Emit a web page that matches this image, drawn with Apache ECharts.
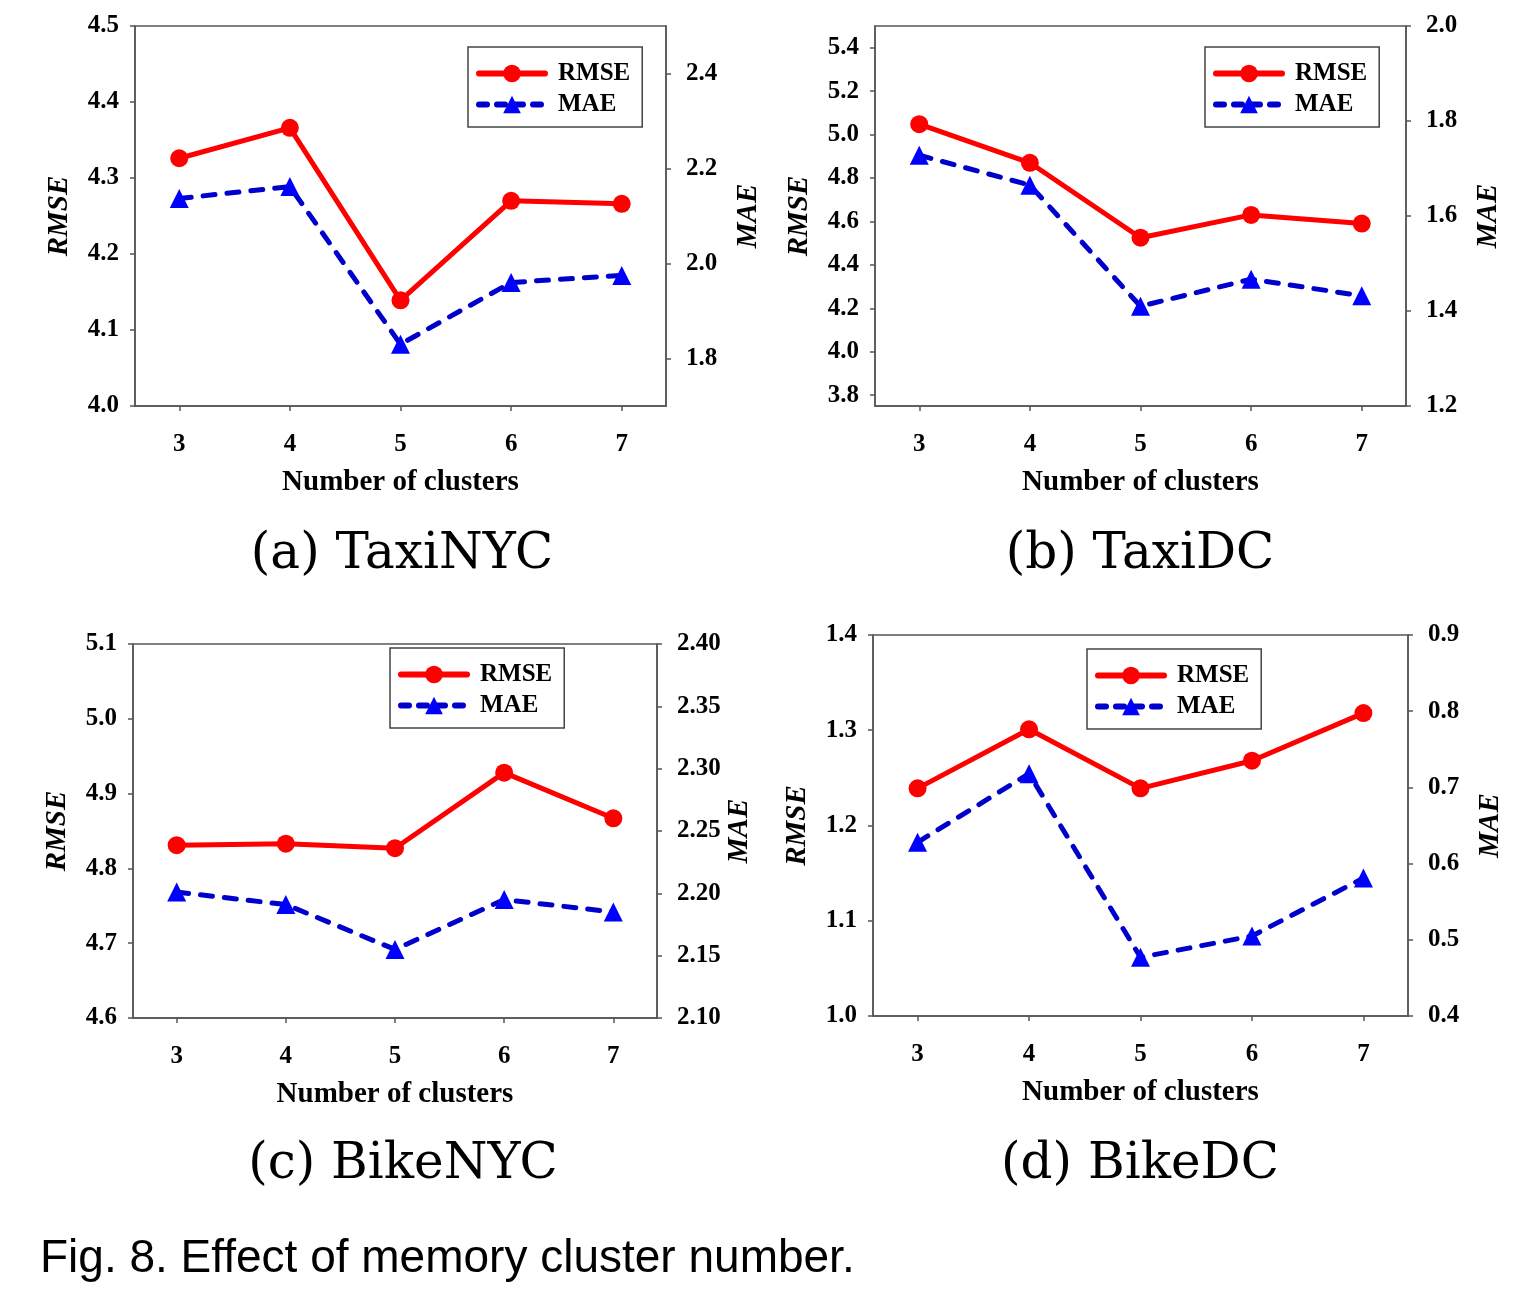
<!DOCTYPE html>
<html><head><meta charset="utf-8">
<script src="https://cdn.jsdelivr.net/npm/echarts@6/dist/echarts.min.js"></script>
<style>html,body{margin:0;padding:0;background:#fff}#c{width:1516px;height:1300px}</style>
</head><body><div id="c"></div>
<script>
const clusters = [3, 4, 5, 6, 7];
const rmseTaxiNYC = [4.326, 4.366, 4.139, 4.270, 4.266];
const maeTaxiNYC  = [2.137, 2.162, 1.830, 1.960, 1.975];
const rmseTaxiDC  = [5.048, 4.870, 4.525, 4.630, 4.590];
const maeTaxiDC   = [1.728, 1.665, 1.410, 1.467, 1.432];
const rmseBikeNYC = [4.831, 4.833, 4.827, 4.928, 4.867];
const maeBikeNYC  = [2.201, 2.191, 2.155, 2.195, 2.185];
const rmseBikeDC  = [1.239, 1.301, 1.239, 1.268, 1.318];
const maeBikeDC   = [0.628, 0.718, 0.477, 0.505, 0.581];

const ticksLeftA = [4.0, 4.1, 4.2, 4.3, 4.4, 4.5];
const ticksRightA = [1.8, 2.0, 2.2, 2.4];
const ticksLeftB = [3.8, 4.0, 4.2, 4.4, 4.6, 4.8, 5.0, 5.2, 5.4];
const ticksRightB = [1.2, 1.4, 1.6, 1.8, 2.0];
const ticksLeftC = [4.6, 4.7, 4.8, 4.9, 5.0, 5.1];
const ticksRightC = [2.10, 2.15, 2.20, 2.25, 2.30, 2.35, 2.40];
const ticksLeftD = [1.0, 1.1, 1.2, 1.3, 1.4];
const ticksRightD = [0.4, 0.5, 0.6, 0.7, 0.8, 0.9];

const subtitles = ['(a) TaxiNYC', '(b) TaxiDC', '(c) BikeNYC', '(d) BikeDC'];
const caption = 'Fig. 8. Effect of memory cluster number.';

const panels = [
  {grid:{left:135, top:26, width:531, height:380}, rmse:rmseTaxiNYC, mae:maeTaxiNYC,
   l:{min:4.0,max:4.5,t:ticksLeftA,d:1}, r:{min:1.7,max:2.5,t:ticksRightA,d:1},
   legend:{left:468, top:47}, sub:{x:402, y:555}},
  {grid:{left:875, top:26, width:531, height:380}, rmse:rmseTaxiDC, mae:maeTaxiDC,
   l:{min:3.75,max:5.5,t:ticksLeftB,d:1}, r:{min:1.2,max:2.0,t:ticksRightB,d:1},
   legend:{left:1205, top:47}, sub:{x:1140, y:555}},
  {grid:{left:133, top:644, width:524, height:374}, rmse:rmseBikeNYC, mae:maeBikeNYC,
   l:{min:4.6,max:5.1,t:ticksLeftC,d:1}, r:{min:2.10,max:2.40,t:ticksRightC,d:2},
   legend:{left:390, top:648}, sub:{x:403, y:1165}},
  {grid:{left:873, top:635, width:535, height:381}, rmse:rmseBikeDC, mae:maeBikeDC,
   l:{min:1.0,max:1.4,t:ticksLeftD,d:1}, r:{min:0.4,max:0.9,t:ticksRightD,d:1},
   legend:{left:1087, top:649}, sub:{x:1140, y:1165}}
];

const serif = '"Liberation Serif", "Times New Roman", serif';
const axisCol = '#555';
const red = '#ff0000', blueLine = '#0000cc', blueMark = '#0000ff';
const maeDash = [12, 12];
const grids = [], xAxes = [], yAxes = [], series = [], legends = [], graphics = [];

panels.forEach((p, i) => {
  grids.push(Object.assign({show:true, borderColor:axisCol, borderWidth:1.5, backgroundColor:'transparent'}, p.grid));
  xAxes.push({
    type:'value', gridIndex:i, min:2.6, max:7.4,
    name:'Number of clusters', nameLocation:'middle', nameGap:62,
    nameTextStyle:{fontFamily:serif, fontWeight:'bold', fontSize:29, color:'#000'},
    axisLine:{show:true, lineStyle:{color:axisCol, width:1.5}},
    axisTick:{show:true, inside:false, length:5, customValues:clusters, lineStyle:{color:axisCol, width:1.5}},
    axisLabel:{customValues:clusters, margin:26, fontFamily:serif, fontWeight:'bold', fontSize:25, color:'#000'},
    splitLine:{show:false}
  });
  const mk = (ax, pos, name, gap) => ({
    type:'value', gridIndex:i, position:pos, min:ax.min, max:ax.max,
    name:name, nameLocation:'middle', nameGap:gap, nameRotate:90,
    nameTextStyle:{fontFamily:serif, fontWeight:'bold', fontStyle:'italic', fontSize:29, color:'#000'},
    axisLine:{show:true, onZero:false, lineStyle:{color:axisCol, width:1.5}},
    axisTick:{show:true, inside:false, length:5, customValues:ax.t, lineStyle:{color:axisCol, width:1.5}},
    axisLabel:{customValues:ax.t, margin: pos==='left'?16:20, fontFamily:serif, fontWeight:'bold', fontSize:25, color:'#000',
      formatter: v => Number(v).toFixed(ax.d)},
    splitLine:{show:false}
  });
  yAxes.push(mk(p.l, 'left', 'RMSE', 61));
  yAxes.push(mk(p.r, 'right', 'MAE', 68));
  series.push({
    name:'RMSE', type:'line', xAxisIndex:i, yAxisIndex:2*i,
    data: clusters.map((c, k) => [c, p.rmse[k]]),
    symbol:'circle', symbolSize:18, z:3,
    lineStyle:{color:red, width:5},
    itemStyle:{color:red}
  });
  series.push({
    name:'MAE', type:'line', xAxisIndex:i, yAxisIndex:2*i+1,
    data: clusters.map((c, k) => [c, p.mae[k]]),
    symbol:'triangle', symbolSize:19, z:2,
    lineStyle:{color:blueLine, width:5, type:maeDash, cap:'round'},
    itemStyle:{color:blueMark}
  });
  legends.push({
    left:p.legend.left, top:p.legend.top, orient:'vertical',
    padding:[14, 12, 10, 8], itemGap:6, itemWidth:66, itemHeight:22,
    borderColor:'#444', borderWidth:1.5, backgroundColor:'#fff',
    data:[
      {name:'RMSE', lineStyle:{width:6, color:red, cap:'round'}, itemStyle:{color:red}},
      {name:'MAE', lineStyle:{width:6, color:blueLine, type:[8, 10], cap:'round'}, itemStyle:{color:blueMark}}
    ],
    textStyle:{fontFamily:serif, fontWeight:'bold', fontSize:25, color:'#000', padding:[0,0,0,8]},
    selectedMode:false
  });
  graphics.push({
    type:'text', x:p.sub.x, y:p.sub.y,
    style:{text:subtitles[i], fontFamily:'"DejaVu Serif", serif', fontSize:50, fill:'#000',
      textAlign:'center', textVerticalAlign:'middle'}
  });
});
graphics.push({
  type:'text', x:40, y:1259,
  style:{text:caption, fontFamily:'"Liberation Sans", Arial, sans-serif', fontSize:46, fill:'#000',
    textAlign:'left', textVerticalAlign:'middle'}
});

const chart = echarts.init(document.getElementById('c'), null, {renderer:'canvas'});
chart.setOption({
  animation:false,
  backgroundColor:'#fff',
  grid:grids, xAxis:xAxes, yAxis:yAxes, series:series, legend:legends, graphic:graphics
});
</script></body></html>
